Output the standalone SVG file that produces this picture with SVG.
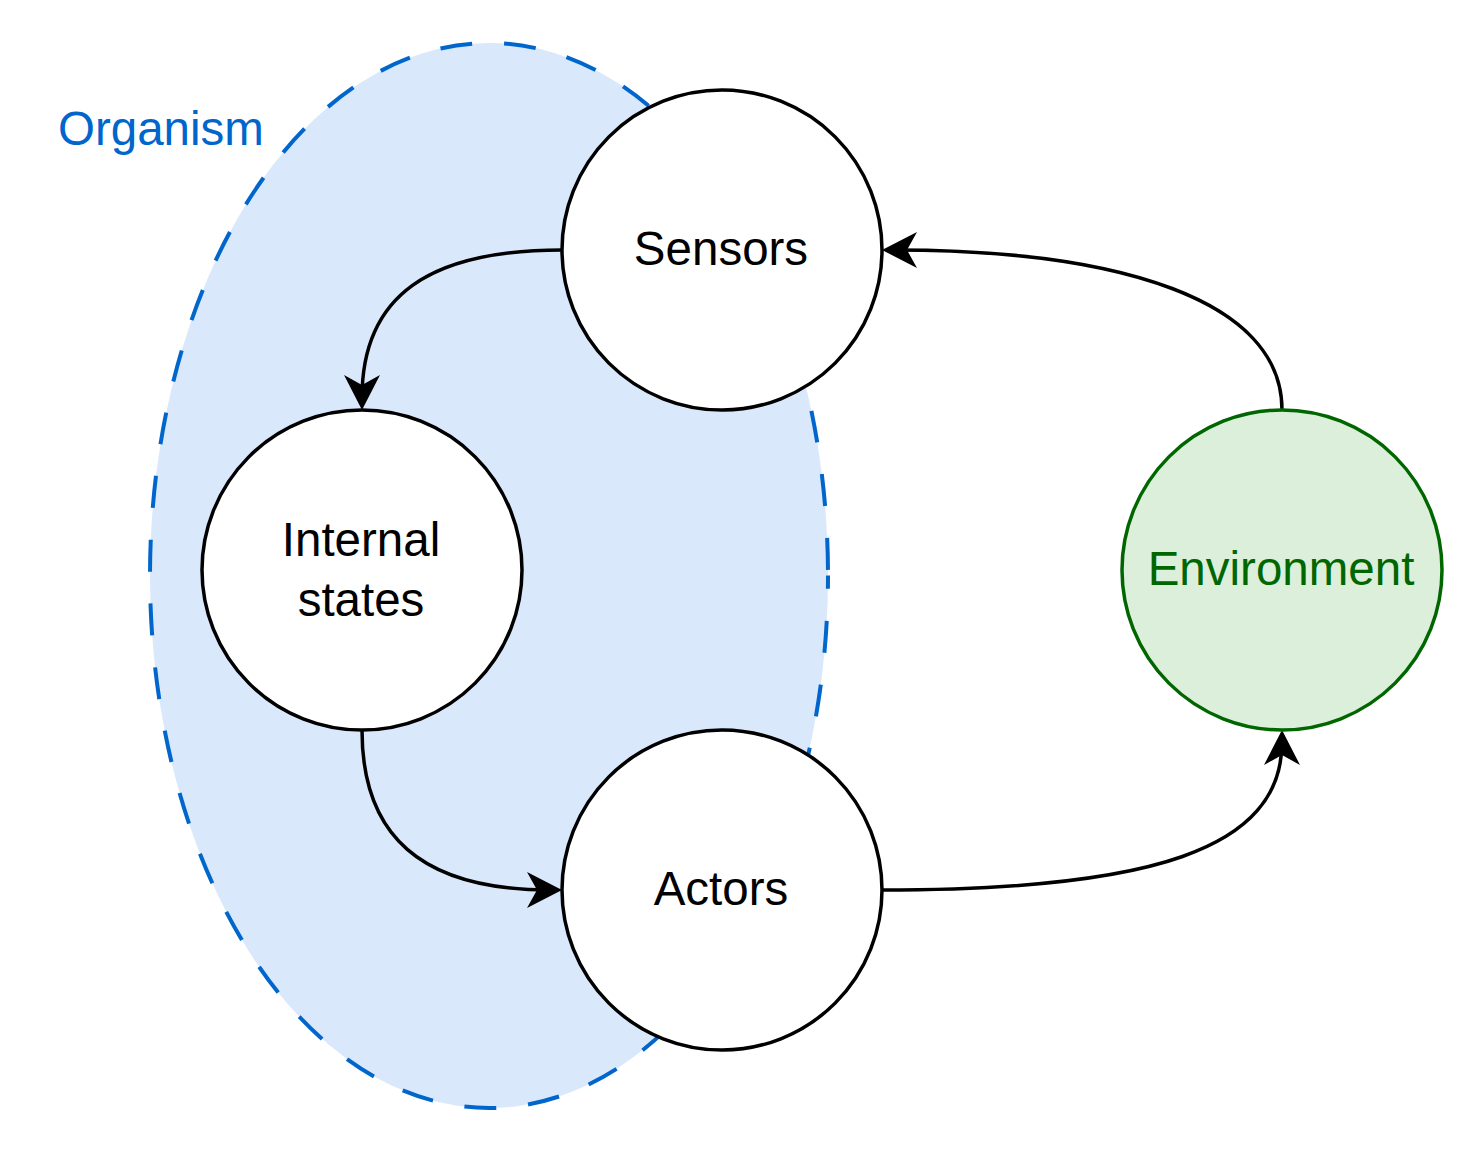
<svg xmlns="http://www.w3.org/2000/svg" width="1484" height="1152" viewBox="0 0 1484 1152">
<style>
.node{fill:#ffffff;stroke:#000000;stroke-width:3.5}
.lbl{font-family:"Liberation Sans",Arial,sans-serif;font-size:47.5px;fill:#000000;text-anchor:middle}
.edge{fill:none;stroke:#000000;stroke-width:3.5}
</style>
<defs>
<marker id="arr" markerUnits="userSpaceOnUse" markerWidth="40" markerHeight="40" refX="23" refY="18" orient="auto" overflow="visible">
<path d="M0,0 L35,18 L0,36 L10,18 Z" fill="#000000"/>
</marker>
</defs>
<rect width="1484" height="1152" fill="#ffffff"/>
<g id="organism">
<ellipse cx="489" cy="575.5" rx="339" ry="532.5" fill="#dae8fc" stroke="#0066cc" stroke-width="4" stroke-dasharray="32 32" stroke-dashoffset="18.5"/>
<text x="58" y="145" style="font-family:'Liberation Sans',Arial,sans-serif;font-size:47.5px;fill:#0066cc">Organism</text>
</g>
<g id="connectors">
<path class="edge" d="M562,250 C430,250 362,295 362,398" marker-end="url(#arr)"/>
<path class="edge" d="M362,730 C362,835 420,890 550,890" marker-end="url(#arr)"/>
<path class="edge" d="M882,890 C1150,890 1282,850 1282,742" marker-end="url(#arr)"/>
<path class="edge" d="M1282,410 C1282,300 1120,250 894,250" marker-end="url(#arr)"/>
</g>
<g id="sensors">
<circle class="node" cx="722" cy="250" r="160"/>
<text class="lbl" x="721" y="265">Sensors</text>
</g>
<g id="internal-states">
<circle class="node" cx="362" cy="570" r="160"/>
<text class="lbl" x="361" y="556">Internal</text>
<text class="lbl" x="361" y="616">states</text>
</g>
<g id="actors">
<circle class="node" cx="722" cy="890" r="160"/>
<text class="lbl" x="721" y="905">Actors</text>
</g>
<g id="environment">
<circle cx="1282" cy="570" r="160" fill="#dcefdb" stroke="#006600" stroke-width="3.5"/>
<text class="lbl" x="1281" y="585" style="fill:#006600">Environment</text>
</g>
</svg>
